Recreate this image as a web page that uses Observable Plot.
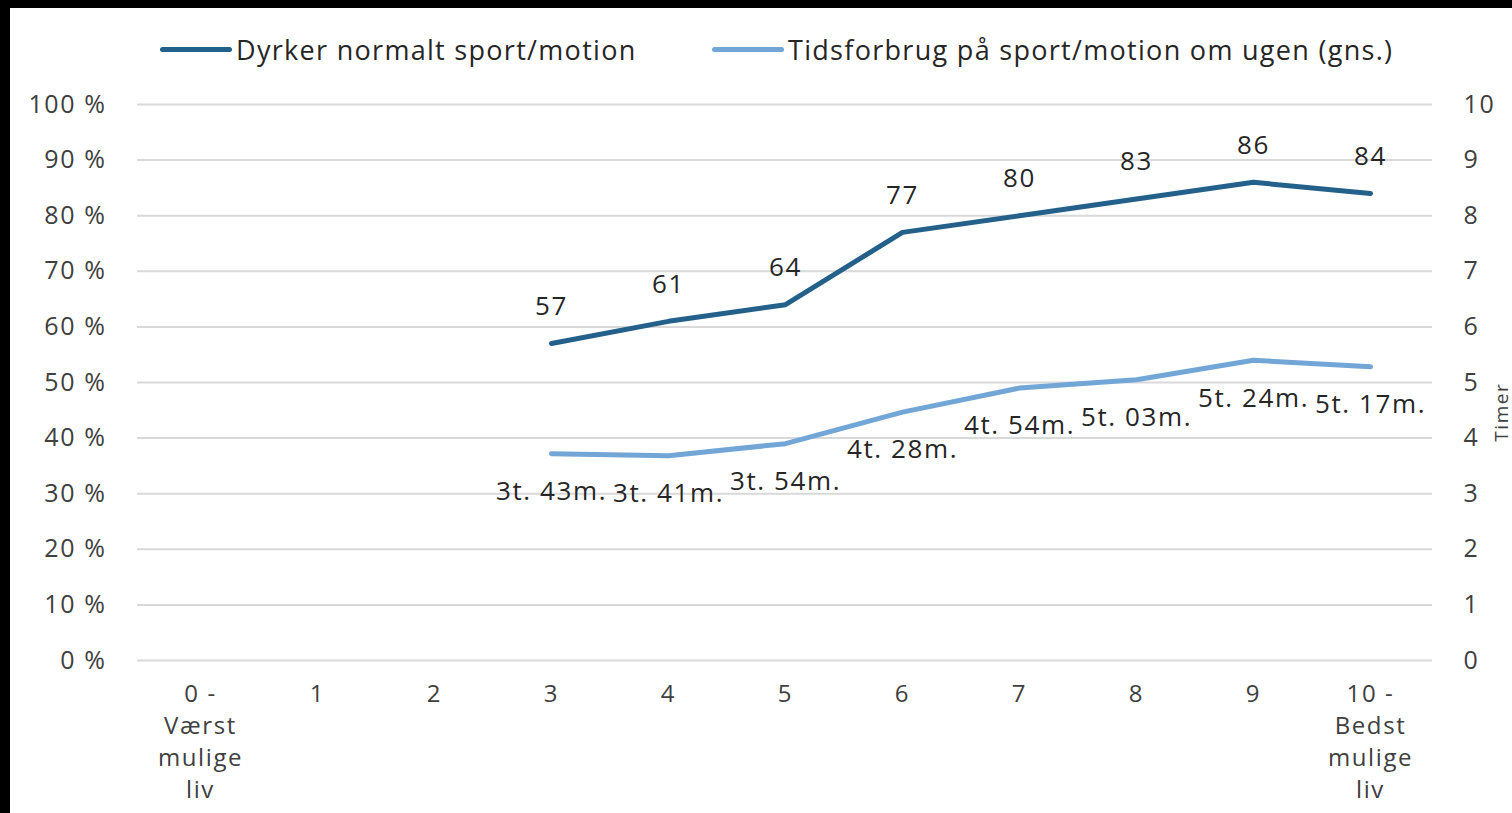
<!DOCTYPE html>
<html>
<head>
<meta charset="utf-8">
<script src="https://cdn.jsdelivr.net/npm/d3@7"></script>
<script src="https://cdn.jsdelivr.net/npm/@observablehq/plot@0.6"></script>
<style>
  html, body { margin: 0; padding: 0; background: #000; width: 1512px; height: 813px; overflow: hidden; }
  #card { position: absolute; left: 10px; top: 8px; width: 1502px; height: 805px; background: #fff; font-family: "Open Sans", sans-serif; }
  #legend { position: absolute; left: 0; top: 0; width: 1502px; height: 70px; }
  .item { position: absolute; top: 23px; display: flex; align-items: center; font-size: 27px; letter-spacing: 1.3px; color: #262626; white-space: nowrap; }
  .sw { width: 72px; height: 5px; border-radius: 3px; margin-right: 4px; }
  #chart { position: absolute; left: 0; top: 70px; }
  #chart svg text { letter-spacing: 1.6px; }
</style>
</head>
<body>
<div id="card">
  <div id="legend"></div>
  <div id="chart"></div>
</div>
<script>
// ---- data ----
const xKeys = [0, 1, 2, 3, 4, 5, 6, 7, 8, 9, 10];
const xTickLabels = ["0 -\nVærst\nmulige\nliv", "1", "2", "3", "4", "5", "6", "7", "8", "9", "10 -\nBedst\nmulige\nliv"];
const seriesX = [3, 4, 5, 6, 7, 8, 9, 10];
const sportPct = [57, 61, 64, 77, 80, 83, 86, 84];
const timeHours = [3.717, 3.683, 3.9, 4.467, 4.9, 5.05, 5.4, 5.283];
const timeLabels = ["3t. 43m.", "3t. 41m.", "3t. 54m.", "4t. 28m.", "4t. 54m.", "5t. 03m.", "5t. 24m.", "5t. 17m."];
const leftTicks = [0, 10, 20, 30, 40, 50, 60, 70, 80, 90, 100];
const seriesNames = ["Dyrker normalt sport/motion", "Tidsforbrug på sport/motion om ugen (gns.)"];
const colors = ["#23608a", "#72a6d6"];

const sportData = seriesX.map((x, i) => ({x, v: sportPct[i]}));
const timeData = seriesX.map((x, i) => ({x, h: timeHours[i], label: timeLabels[i]}));

// ---- legend ----
const legend = document.getElementById("legend");
const legendLeft = [150, 702];
seriesNames.forEach((name, i) => {
  const it = document.createElement("div");
  it.className = "item";
  it.style.left = legendLeft[i] + "px";
  it.innerHTML = `<div class="sw" style="background:${colors[i]}"></div><span>${name}</span>`;
  legend.appendChild(it);
});

// ---- chart ----
const chart = Plot.plot({
  width: 1502,
  height: 735,
  marginTop: 26,
  marginBottom: 153,
  marginLeft: 127,
  marginRight: 80,
  style: {fontFamily: "Open Sans, sans-serif", color: "#404040", background: "white", overflow: "visible"},
  x: {type: "point", domain: xKeys, padding: 0.5},
  y: {domain: [0, 100]},
  marks: [
    Plot.gridY(leftTicks, {stroke: "#d9d9d9", strokeOpacity: 1, strokeWidth: 2}),
    Plot.axisY(leftTicks, {anchor: "left", tickSize: 0, tickPadding: 31, fontSize: 25, tickFormat: d => d + " %", label: null}),
    Plot.axisY(leftTicks, {anchor: "right", tickSize: 0, tickPadding: 31, fontSize: 25, textAnchor: "start", tickFormat: d => String(d / 10), label: null}),
    Plot.axisX(xKeys, {tickSize: 0, tickPadding: 19, fontSize: 24, lineHeight: 1.33, tickFormat: i => xTickLabels[i], label: null}),
    Plot.text(["Timer"], {frameAnchor: "right", dx: 69, rotate: -90, fontSize: 19, fill: "#404040"}),
    Plot.line(timeData, {x: "x", y: d => d.h * 10, stroke: colors[1], strokeWidth: 5}),
    Plot.line(sportData, {x: "x", y: "v", stroke: colors[0], strokeWidth: 5}),
    Plot.text(sportData, {x: "x", y: "v", text: d => String(d.v), dy: -37, fontSize: 26, fill: "#262626"}),
    Plot.text(timeData, {x: "x", y: d => d.h * 10, text: "label", dy: 38, fontSize: 26, fill: "#262626"})
  ]
});
document.getElementById("chart").appendChild(chart);
</script>
</body>
</html>
